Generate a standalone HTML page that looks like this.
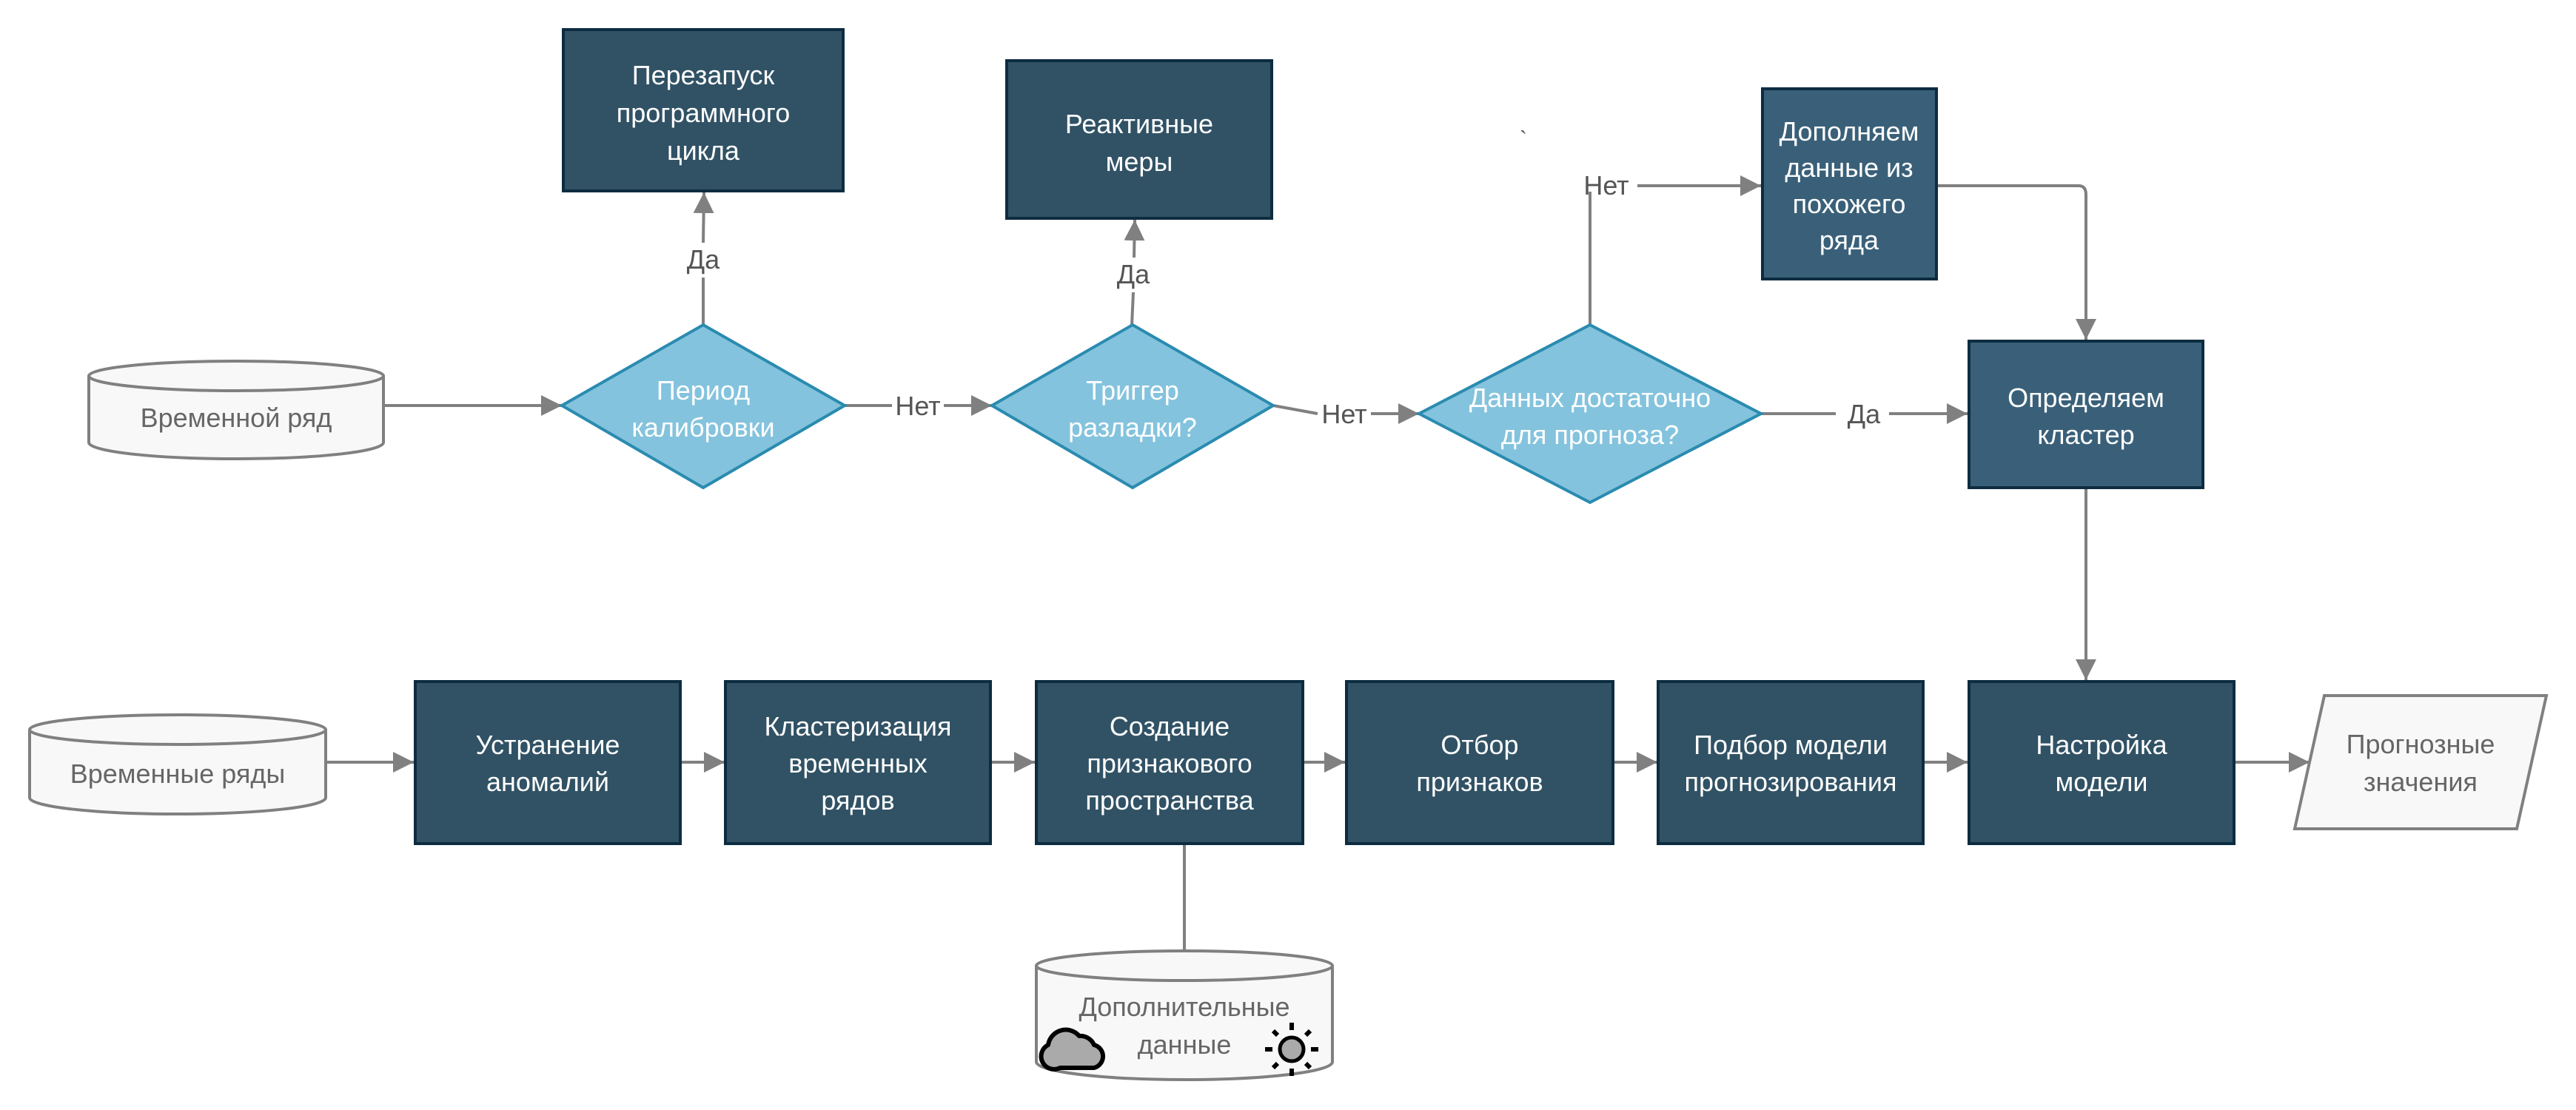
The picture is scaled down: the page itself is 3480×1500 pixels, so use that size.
<!DOCTYPE html>
<html><head><meta charset="utf-8"><style>
html,body{margin:0;padding:0;background:#fff;}
svg{display:block;}
text{font-family:"Liberation Sans","DejaVu Sans",sans-serif;}
.w{fill:#fff;font-size:36px;text-anchor:middle;}
.g{fill:#666;font-size:36px;text-anchor:middle;}
.l{fill:#555;font-size:36px;text-anchor:middle;}
.ln{stroke:#808080;stroke-width:4;fill:none;}
</style></head><body>
<svg width="3480" height="1500" viewBox="0 0 3480 1500" xmlns="http://www.w3.org/2000/svg">
<defs>
<marker id="a" viewBox="0 0 10 10" refX="10" refY="5" markerWidth="7" markerHeight="7" orient="auto" markerUnits="strokeWidth">
<path d="M0,0 L10,5 L0,10 Z" fill="#808080"/></marker>
</defs>
<rect width="3480" height="1500" fill="#fff"/>

<path class="ln" d="M519,548 L759,548" marker-end="url(#a)"/>
<path class="ln" d="M1141,548 L1205,548 M1275,548 L1340,548" marker-end="url(#a)"/>
<path class="ln" d="M1720,548 L1780,559 M1852,559 L1917,559" marker-end="url(#a)"/>
<path class="ln" d="M2379,559 L2480,559 M2552,559 L2658,559" marker-end="url(#a)"/>
<path class="ln" d="M950,439 L950,375 M950,328 L951,260" marker-end="url(#a)"/>
<path class="ln" d="M1529,439 L1531,395 M1532,348 L1533,297" marker-end="url(#a)"/>
<path class="ln" d="M2148,439 L2148,259 M2212,251 L2379,251" marker-end="url(#a)"/>
<path class="ln" d="M2618,251 L2808,251 Q2818,251 2818,263 L2818,459" marker-end="url(#a)"/>
<path class="ln" d="M2818,659 L2818,919" marker-end="url(#a)"/>
<path class="ln" d="M440,1030 L559,1030" marker-end="url(#a)"/>
<path class="ln" d="M919,1030 L979,1030" marker-end="url(#a)"/>
<path class="ln" d="M1338,1030 L1398,1030" marker-end="url(#a)"/>
<path class="ln" d="M1760,1030 L1817,1030" marker-end="url(#a)"/>
<path class="ln" d="M2179,1030 L2239,1030" marker-end="url(#a)"/>
<path class="ln" d="M2598,1030 L2658,1030" marker-end="url(#a)"/>
<path class="ln" d="M3018,1030 L3120,1030" marker-end="url(#a)"/>
<path class="ln" d="M1600,1141 L1600,1287"/>

<text class="l" x="950" y="363">Да</text>
<text class="l" x="1531" y="383">Да</text>
<text class="l" x="1240" y="561">Нет</text>
<text class="l" x="1816" y="572">Нет</text>
<text class="l" x="2170" y="263">Нет</text>
<text class="l" x="2518" y="572">Да</text>
<text class="l" x="2058" y="198" style="font-size:30px">`</text>

<rect x="761" y="40" width="378" height="218" fill="#315265" stroke="#0d2c40" stroke-width="4"/>
<text class="w" x="950" y="114">Перезапуск</text>
<text class="w" x="950" y="165">программного</text>
<text class="w" x="950" y="216">цикла</text>
<rect x="1360" y="82" width="358" height="213" fill="#315265" stroke="#0d2c40" stroke-width="4"/>
<text class="w" x="1539" y="180">Реактивные</text>
<text class="w" x="1539" y="231">меры</text>
<rect x="2381" y="120" width="235" height="257" fill="#3a6079" stroke="#0d2c40" stroke-width="4"/>
<text class="w" x="2498" y="190">Дополняем</text>
<text class="w" x="2498" y="239">данные из</text>
<text class="w" x="2498" y="288">похожего</text>
<text class="w" x="2498" y="337">ряда</text>
<rect x="2660" y="461" width="316" height="198" fill="#3a6079" stroke="#0d2c40" stroke-width="4"/>
<text class="w" x="2818" y="550">Определяем</text>
<text class="w" x="2818" y="600">кластер</text>

<polygon points="950,439 1141,548 950,659 759,548" fill="#84c3dd" stroke="#2a8bb0" stroke-width="4"/>
<text class="w" x="950" y="540">Период</text>
<text class="w" x="950" y="590">калибровки</text>
<polygon points="1530,439 1720,548 1530,659 1340,548" fill="#84c3dd" stroke="#2a8bb0" stroke-width="4"/>
<text class="w" x="1530" y="540">Триггер</text>
<text class="w" x="1530" y="590">разладки?</text>
<polygon points="2148,439 2379,559 2148,679 1917,559" fill="#84c3dd" stroke="#2a8bb0" stroke-width="4"/>
<text class="w" x="2148" y="550">Данных достаточно</text>
<text class="w" x="2148" y="600">для прогноза?</text>

<path d="M120,508 L120,598 A199,22 0 0 0 518,598 L518,508" fill="#f8f8f8" stroke="#808080" stroke-width="4"/>
<ellipse cx="319" cy="508" rx="199" ry="20" fill="#f8f8f8" stroke="#808080" stroke-width="4"/>
<text class="g" x="319" y="577">Временной ряд</text>

<g fill="#315265" stroke="#0d2c40" stroke-width="4">
<rect x="561" y="921" width="358" height="219"/>
<rect x="980" y="921" width="358" height="219"/>
<rect x="1400" y="921" width="360" height="219"/>
<rect x="1819" y="921" width="360" height="219"/>
<rect x="2240" y="921" width="358" height="219"/>
<rect x="2660" y="921" width="358" height="219"/>
</g>
<text class="w" x="740" y="1019">Устранение</text>
<text class="w" x="740" y="1069">аномалий</text>
<text class="w" x="1159" y="994">Кластеризация</text>
<text class="w" x="1159" y="1044">временных</text>
<text class="w" x="1159" y="1094">рядов</text>
<text class="w" x="1580" y="994">Создание</text>
<text class="w" x="1580" y="1044">признакового</text>
<text class="w" x="1580" y="1094">пространства</text>
<text class="w" x="1999" y="1019">Отбор</text>
<text class="w" x="1999" y="1069">признаков</text>
<text class="w" x="2419" y="1019">Подбор модели</text>
<text class="w" x="2419" y="1069">прогнозирования</text>
<text class="w" x="2839" y="1019">Настройка</text>
<text class="w" x="2839" y="1069">модели</text>

<path d="M40,986 L40,1078 A200,22 0 0 0 440,1078 L440,986" fill="#f8f8f8" stroke="#808080" stroke-width="4"/>
<ellipse cx="240" cy="986" rx="200" ry="20" fill="#f8f8f8" stroke="#808080" stroke-width="4"/>
<text class="g" x="240" y="1058">Временные ряды</text>

<polygon points="3140,940 3440,940 3400,1120 3100,1120" fill="#f8f8f8" stroke="#808080" stroke-width="4"/>
<text class="g" x="3270" y="1018">Прогнозные</text>
<text class="g" x="3270" y="1069">значения</text>

<path d="M1400,1305 L1400,1435 A200,24 0 0 0 1800,1435 L1800,1305" fill="#f8f8f8" stroke="#808080" stroke-width="4"/>
<ellipse cx="1600" cy="1305" rx="200" ry="20" fill="#f8f8f8" stroke="#808080" stroke-width="4"/>
<text class="g" x="1600" y="1373">Дополнительные</text>
<text class="g" x="1600" y="1424">данные</text>
<path d="M1432,1443 L1478,1443 A16,16 0 0 0 1478,1412 A20,20 0 0 0 1458,1400 A24,24 0 0 0 1416,1412 A16,16 0 0 0 1432,1443 Z" fill="#aaa" stroke="#000" stroke-width="6" stroke-linejoin="round"/>
<circle cx="1745" cy="1418" r="16" fill="#aaa" stroke="#000" stroke-width="5"/>
<g stroke="#000" stroke-width="6">
<line x1="1745" y1="1382" x2="1745" y2="1392"/><line x1="1745" y1="1444" x2="1745" y2="1454"/>
<line x1="1709" y1="1418" x2="1719" y2="1418"/><line x1="1771" y1="1418" x2="1781" y2="1418"/>
<line x1="1720" y1="1393" x2="1726" y2="1399"/><line x1="1764" y1="1437" x2="1770" y2="1443"/>
<line x1="1770" y1="1393" x2="1764" y2="1399"/><line x1="1726" y1="1437" x2="1720" y2="1443"/>
</g>
</svg>
</body></html>
